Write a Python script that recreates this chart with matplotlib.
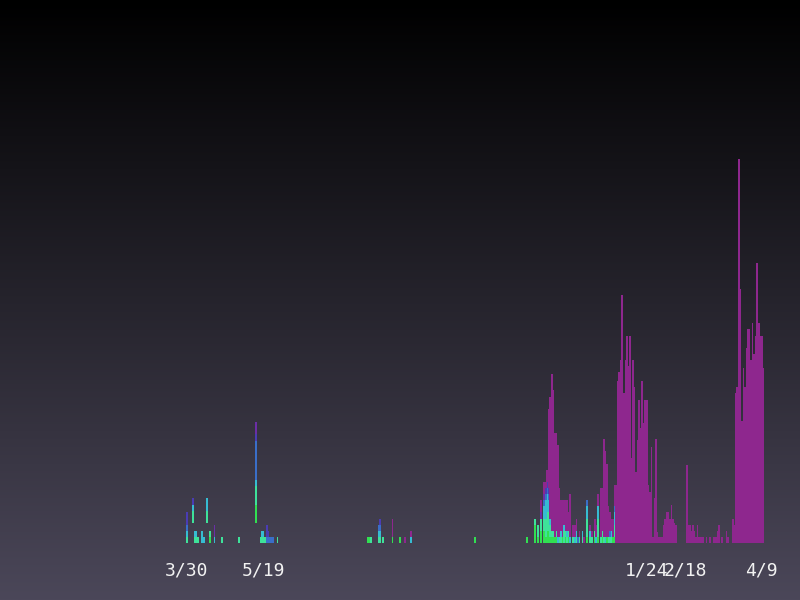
import numpy as np
import matplotlib
matplotlib.use('Agg')
import matplotlib.pyplot as plt
from matplotlib.colors import LinearSegmentedColormap

# day 0 = 3/30, one bar per day
tick_days = [0, 50, 300, 325, 375]
tick_labels = ['3/30', '5/19', '1/24', '2/18', '4/9']

# stacked layers, bottom -> top (day: value)
lift = {4: 3.3, 13: 3.3, 45: 3.3}

green = {15: 1, 45: 3, 118: 1, 119: 1, 134: 1, 139: 1, 188: 1, 222: 1, 227: 3,
         229: 1, 231: 2, 233: 2, 234: 1, 235: 2, 236: 2, 237: 1, 238: 1, 239: 1,
         240: 1, 241: 1, 245: 1, 247: 1, 249: 1, 261: 1, 266: 1, 268: 1, 271: 1,
         274: 1, 278: 1, 279: 1}

teal = {0: 1, 4: 2, 5: 1, 6: 1, 7: 1, 13: 2, 15: 1, 23: 1, 34: 1, 45: 3, 48: 1,
        49: 1, 50: 1, 51: 1, 59: 1, 120: 1, 125: 1, 126: 1, 128: 1, 227: 1,
        229: 2, 231: 2, 233: 2, 234: 3, 235: 3, 236: 3, 237: 2, 238: 1, 239: 1,
        241: 1, 243: 1, 244: 1, 246: 2, 247: 1, 248: 1, 249: 1, 252: 1, 254: 1,
        256: 1, 258: 1, 261: 3, 263: 1, 264: 1, 266: 1, 268: 3, 270: 1, 271: 1,
        272: 1, 275: 1, 276: 1, 277: 1, 279: 2}

cyan = {0: 1, 4: 1, 5: 1, 6: 1, 10: 2, 11: 1, 13: 2, 18: 1, 45: 1, 49: 1, 50: 1,
        125: 1, 126: 1, 146: 1, 233: 2, 234: 3, 235: 3, 236: 2, 237: 1, 242: 1,
        244: 1, 246: 1, 248: 1, 250: 1, 253: 1, 254: 1, 258: 1, 261: 2, 263: 1,
        267: 1, 268: 2, 273: 1, 277: 1, 279: 2}

blue = {0: 1, 45: 6.5, 52: 1, 53: 1, 54: 1, 55: 1, 56: 1, 125: 1, 126: 1, 233: 1,
        234: 1, 235: 1, 236: 1, 255: 1, 261: 1, 276: 1, 279: 1}

indigo = {0: 2, 4: 1, 45: 1, 52: 2, 53: 1, 126: 1, 234: 1, 235: 1, 236: 1}

purple = {18: 2, 45: 2, 231: 1, 233: 1}

magenta = {134: 3, 142: 1, 146: 1, 231: 2, 233: 2, 234: 1, 235: 2, 236: 13,
           237: 20, 238: 25.7, 239: 23, 240: 17, 241: 16, 242: 15, 243: 8, 244: 5,
           245: 6, 246: 4, 247: 5, 248: 5, 249: 3, 250: 7, 252: 2, 253: 2, 254: 2,
           256: 1, 259: 1, 263: 1, 264: 1, 266: 2, 267: 2, 268: 2, 270: 8, 271: 7,
           272: 16, 273: 14, 274: 12, 275: 5, 276: 3, 277: 2, 278: 3, 279: 3.5,
           280: 9.5, 281: 26.5, 282: 28, 283: 30, 284: 40.6, 285: 24.6, 286: 30,
           287: 34, 288: 29, 289: 34, 290: 14, 291: 30, 292: 25.6, 293: 11.6,
           294: 16.9, 295: 23.4, 296: 18.8, 297: 26.5, 298: 19.7, 299: 23.4,
           300: 23.4, 301: 9.5, 302: 8.4, 303: 15.7, 304: 1, 305: 7.4, 306: 17,
           307: 1.8, 308: 1, 309: 1, 310: 1, 311: 3, 312: 4, 313: 5, 314: 5,
           315: 4, 316: 6.2, 317: 4, 318: 3.3, 319: 3, 326: 12.8, 327: 3, 328: 3,
           329: 2, 330: 3, 331: 2, 332: 1, 333: 3, 334: 1, 335: 1, 336: 1, 337: 1,
           339: 1, 341: 1, 344: 1, 345: 1, 346: 2, 347: 3, 349: 1, 352: 2, 353: 1,
           356: 4, 357: 3, 358: 24.6, 359: 25.6, 360: 63, 361: 41.6, 362: 20,
           363: 28.7, 364: 25.6, 365: 32, 366: 35, 367: 35, 368: 30, 369: 36,
           370: 31, 371: 34, 372: 45.9, 373: 36, 374: 34, 375: 34, 376: 28.7}

layers = [green, teal, cyan, blue, indigo, purple, magenta]
colors = ['#31e052', '#3ee29a', '#36bcd2', '#3a6ec8', '#4a3cb4', '#6b2ea6', '#8e278e']

fig = plt.figure(figsize=(8, 6), dpi=100)

# background gradient
bg = fig.add_axes([0, 0, 1, 1])
grad = np.linspace(0, 1, 256).reshape(-1, 1)
cmap = LinearSegmentedColormap.from_list('bg', ['#000000', '#4b4759'])
bg.imshow(grad, aspect='auto', cmap=cmap, extent=[0, 1, 0, 1], origin='upper')
bg.axis('off')

ax = fig.add_axes([0, 57 / 600, 1, 543 / 600])
ax.set_facecolor('none')

days = np.arange(-1, 380)
bottom = np.array([lift.get(d, 0) for d in days], dtype=float)
for layer, c in zip(layers, colors):
    vals = np.array([layer.get(d, 0) for d in days], dtype=float)
    m = vals > 0
    ax.bar(days[m], vals[m], bottom=bottom[m], width=1.1, color=c, linewidth=0)
    bottom += vals

ax.set_xlim(-122.0, 399.9)
ax.set_ylim(0, 89.0)
for s in ax.spines.values():
    s.set_visible(False)
ax.set_yticks([])
ax.set_xticks(tick_days)
ax.set_xticklabels(tick_labels, family='DejaVu Sans Mono', fontsize=13, color='#f2f2f2')
ax.tick_params(axis='x', length=0, pad=13.5)

fig.savefig('out.png', dpi=100)
